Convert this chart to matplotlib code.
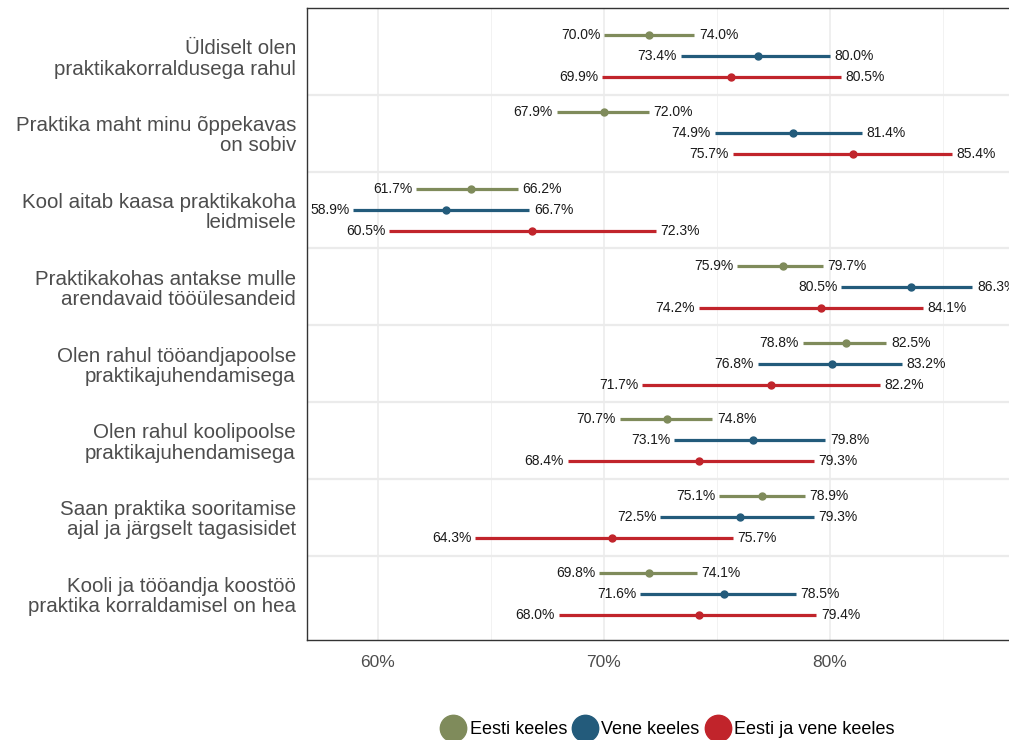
import matplotlib.pyplot as plt
from matplotlib.lines import Line2D

# andmed: kategooriad ja kolm rühma (alumine piir, punkthinnang, ülemine piir)
categories = [
    "Üldiselt olen\npraktikakorraldusega rahul",
    "Praktika maht minu õppekavas\non sobiv",
    "Kool aitab kaasa praktikakoha\nleidmisele",
    "Praktikakohas antakse mulle\narendavaid tööülesandeid",
    "Olen rahul tööandjapoolse\npraktikajuhendamisega",
    "Olen rahul koolipoolse\npraktikajuhendamisega",
    "Saan praktika sooritamise\najal ja järgselt tagasisidet",
    "Kooli ja tööandja koostöö\npraktika korraldamisel on hea",
]

groups = ["Eesti keeles", "Vene keeles", "Eesti ja vene keeles"]
colors = ["#7F8B5B", "#235B7B", "#C1242B"]

eesti_low = [70.0, 67.9, 61.7, 75.9, 78.8, 70.7, 75.1, 69.8]
eesti_mid = [72.0, 70.0, 64.1, 77.9, 80.7, 72.8, 77.0, 72.0]
eesti_high = [74.0, 72.0, 66.2, 79.7, 82.5, 74.8, 78.9, 74.1]

vene_low = [73.4, 74.9, 58.9, 80.5, 76.8, 73.1, 72.5, 71.6]
vene_mid = [76.8, 78.35, 63.0, 83.6, 80.1, 76.6, 76.0, 75.3]
vene_high = [80.0, 81.4, 66.7, 86.3, 83.2, 79.8, 79.3, 78.5]

koos_low = [69.9, 75.7, 60.5, 74.2, 71.7, 68.4, 64.3, 68.0]
koos_mid = [75.6, 81.0, 66.8, 79.6, 77.4, 74.2, 70.35, 74.2]
koos_high = [80.5, 85.4, 72.3, 84.1, 82.2, 79.3, 75.7, 79.4]

series = [
    (eesti_low, eesti_mid, eesti_high),
    (vene_low, vene_mid, vene_high),
    (koos_low, koos_mid, koos_high),
]
offsets = [-0.273, 0.0, 0.273]

plt.rcParams['font.family'] = ['Liberation Sans', 'DejaVu Sans']

fig = plt.figure(figsize=(10.09, 7.40), dpi=100)
ax = fig.add_axes([307 / 1009, 1 - 640 / 740, 708 / 1009, 632 / 740])

# ruudustik
for x in [60, 70, 80]:
    ax.axvline(x, color="#EBEBEB", lw=1.1, zorder=0)
for x in [65, 75, 85]:
    ax.axvline(x, color="#F0F0F0", lw=0.6, zorder=0)
for i in range(len(categories) - 1):
    ax.axhline(i + 0.5, color="#EBEBEB", lw=1.6, zorder=0)

for (low, mid, high), off, col in zip(series, offsets, colors):
    for i in range(len(categories)):
        y = i + off
        ax.plot([low[i], high[i]], [y, y], color=col, lw=2.3, solid_capstyle="butt", zorder=2)
        ax.plot(mid[i], y, "o", color=col, ms=5, zorder=3)
        ax.text(low[i] - 0.17, y, f"{low[i]:.1f}%", ha="right", va="center",
                fontsize=10, color="#1A1A1A")
        ax.text(high[i] + 0.2, y, f"{high[i]:.1f}%", ha="left", va="center",
                fontsize=10, color="#1A1A1A")

ax.set_xlim(56.86, 60 + (1015 - 378) / 22.6)
ax.set_ylim(len(categories) - 1 + 0.6, -0.63)
ax.set_xticks([60, 70, 80])
ax.set_xticklabels(["60%", "70%", "80%"])
ax.set_yticks(range(len(categories)))
ax.set_yticklabels(categories, linespacing=1.08)
ax.tick_params(axis="x", length=0, labelsize=12.5, labelcolor="#4D4D4D", pad=11)
ax.tick_params(axis="y", length=0, labelsize=14.8, labelcolor="#4D4D4D", pad=8)

for s in ["left", "bottom", "top"]:
    ax.spines[s].set_color("#333333")
    ax.spines[s].set_linewidth(1.0)
ax.spines["right"].set_visible(False)

handles = [Line2D([], [], marker="o", color=c, ls="", ms=19) for c in colors]
fig.legend(handles, groups, loc="center", bbox_to_anchor=(0.663, 0.014), ncol=3,
           frameon=False, fontsize=13, handletextpad=0.35, columnspacing=0.45,
           handlelength=1.1)

fig.savefig("out.png", dpi=100)
